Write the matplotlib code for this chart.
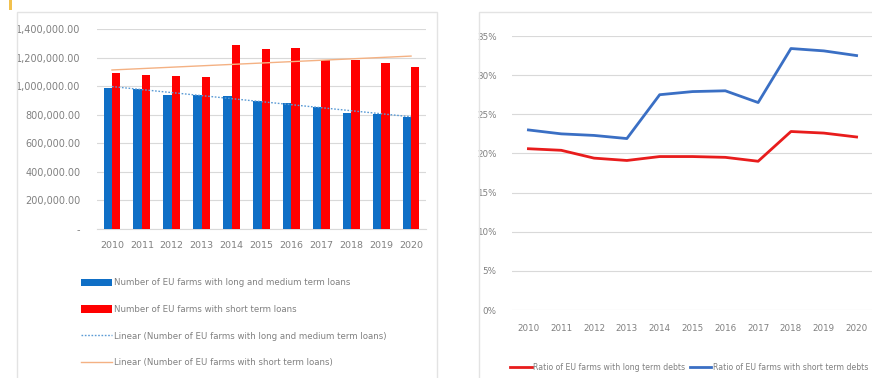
import matplotlib
matplotlib.use("Agg")
import matplotlib.pyplot as plt
from matplotlib.patches import Rectangle
from matplotlib.ticker import FuncFormatter, PercentFormatter
import numpy as np

plt.rcParams['font.family'] = ['Liberation Sans Narrow', 'DejaVu Sans']

years = ['2010', '2011', '2012', '2013', '2014', '2015', '2016', '2017', '2018', '2019', '2020']
long_medium_loans = [990000, 980000, 940000, 935000, 930000, 895000, 880000, 855000, 810000, 805000, 785000]
short_loans = [1095000, 1080000, 1070000, 1065000, 1285000, 1260000, 1265000, 1185000, 1180000, 1160000, 1135000]

ratio_long_debts = [20.6, 20.4, 19.4, 19.1, 19.6, 19.6, 19.5, 19.0, 22.8, 22.6, 22.1]
ratio_short_debts = [23.0, 22.5, 22.3, 21.9, 27.5, 27.9, 28.0, 26.5, 33.4, 33.1, 32.5]

lbl_long = 'Number of EU farms with long and medium term loans'
lbl_short = 'Number of EU farms with short term loans'
lbl_tr_long = 'Linear (Number of EU farms with long and medium term loans)'
lbl_tr_short = 'Linear (Number of EU farms with short term loans)'
lbl_r_long = 'Ratio of EU farms with long term debts'
lbl_r_short = 'Ratio of EU farms with short term debts'

W, H = 872, 378
fig = plt.figure(figsize=(W / 100, H / 100), dpi=100)
fig.patch.set_facecolor('white')

def fx(px):
    return px / W

def fy(py):
    return 1 - py / H

txt_col = '#808080'
grid_col = '#d9d9d9'

# panel frames and decoration
fig.patches.append(Rectangle((fx(17), fy(390)), fx(437 - 17), (390 - 12) / H,
                             transform=fig.transFigure, fill=False, edgecolor='#e3e3e3', lw=1))
fig.patches.append(Rectangle((fx(479), fy(390)), fx(900 - 479), (390 - 12) / H,
                             transform=fig.transFigure, fill=False, edgecolor='#e3e3e3', lw=1))
fig.patches.append(Rectangle((fx(9), fy(10)), fx(3), 10 / H,
                             transform=fig.transFigure, facecolor='#f2c14e', edgecolor='none'))

# ---------- left chart ----------
ax1 = fig.add_axes([fx(97), fy(229), fx(426 - 97), (229 - 29) / H])
x = np.arange(len(years))
bw = 0.28
ax1.bar(x - bw / 2, long_medium_loans, width=bw, color='#0f6fc6', label=lbl_long, zorder=3)
ax1.bar(x + bw / 2, short_loans, width=bw, color='#ff0000', label=lbl_short, zorder=3)

c1 = np.polyfit(x, long_medium_loans, 1)
c2 = np.polyfit(x, short_loans, 1)
ax1.plot(x, np.polyval(c1, x), color='#5b9bd5', lw=1.0, ls=(0, (1.2, 1.2)), label=lbl_tr_long, zorder=4)
ax1.plot(x, np.polyval(c2, x), color='#f4b183', lw=1.0, label=lbl_tr_short, zorder=4)

ax1.set_xlim(-0.5, len(years) - 0.5)
ax1.set_ylim(0, 1400000)
ax1.set_yticks(np.arange(0, 1400001, 200000))
ax1.yaxis.set_major_formatter(FuncFormatter(lambda v, p: '-' if v == 0 else f'{v:,.2f}'))
ax1.set_xticks(x)
ax1.set_xticklabels(years)
ax1.grid(axis='y', color=grid_col, lw=0.8, zorder=0)
for s in ax1.spines.values():
    s.set_visible(False)
ax1.spines['bottom'].set_visible(True)
ax1.spines['bottom'].set_color(grid_col)
ax1.tick_params(axis='both', length=0, colors=txt_col, labelsize=7.0)
ax1.tick_params(axis='y', pad=12)
ax1.tick_params(axis='x', pad=9, labelsize=6.8)

h, l = ax1.get_legend_handles_labels()
hh = [h[2], h[3], h[0], h[1]]
ll = [l[2], l[3], l[0], l[1]]
leg1 = fig.legend(hh, ll, loc='upper left', bbox_to_anchor=(fx(77), fy(274)),
                  frameon=False, fontsize=6.2, labelcolor=txt_col, handlelength=3.6,
                  handleheight=0.9, handletextpad=0.2, labelspacing=2.05, borderpad=0)

# ---------- right chart ----------
ax2 = fig.add_axes([fx(512), fy(310), fx(873 - 512), (310 - 36) / H])
ax2.plot(x, ratio_long_debts, color='#e81c1c', lw=2.0, label=lbl_r_long, zorder=3)
ax2.plot(x, ratio_short_debts, color='#3a6fc4', lw=2.0, label=lbl_r_short, zorder=3)
ax2.set_xlim(-0.5, len(years) - 0.5)
ax2.set_ylim(0, 35)
ax2.set_yticks(np.arange(0, 36, 5))
ax2.yaxis.set_major_formatter(PercentFormatter(decimals=0))
ax2.set_xticks(x)
ax2.set_xticklabels(years)
ax2.grid(axis='y', color=grid_col, lw=0.8, zorder=0)
for s in ax2.spines.values():
    s.set_visible(False)
ax2.tick_params(axis='both', length=0, colors=txt_col, labelsize=6.3)
ax2.tick_params(axis='y', pad=11)
ax2.tick_params(axis='x', pad=10)

leg2 = fig.legend(loc='center left', handles=ax2.get_lines(), bbox_to_anchor=(fx(506), fy(367)),
                  ncol=2, frameon=False, fontsize=5.6, labelcolor=txt_col, handlelength=2.8,
                  handletextpad=0.15, columnspacing=0.6, borderpad=0)

fig.savefig('out.png', dpi=100, facecolor='white')
